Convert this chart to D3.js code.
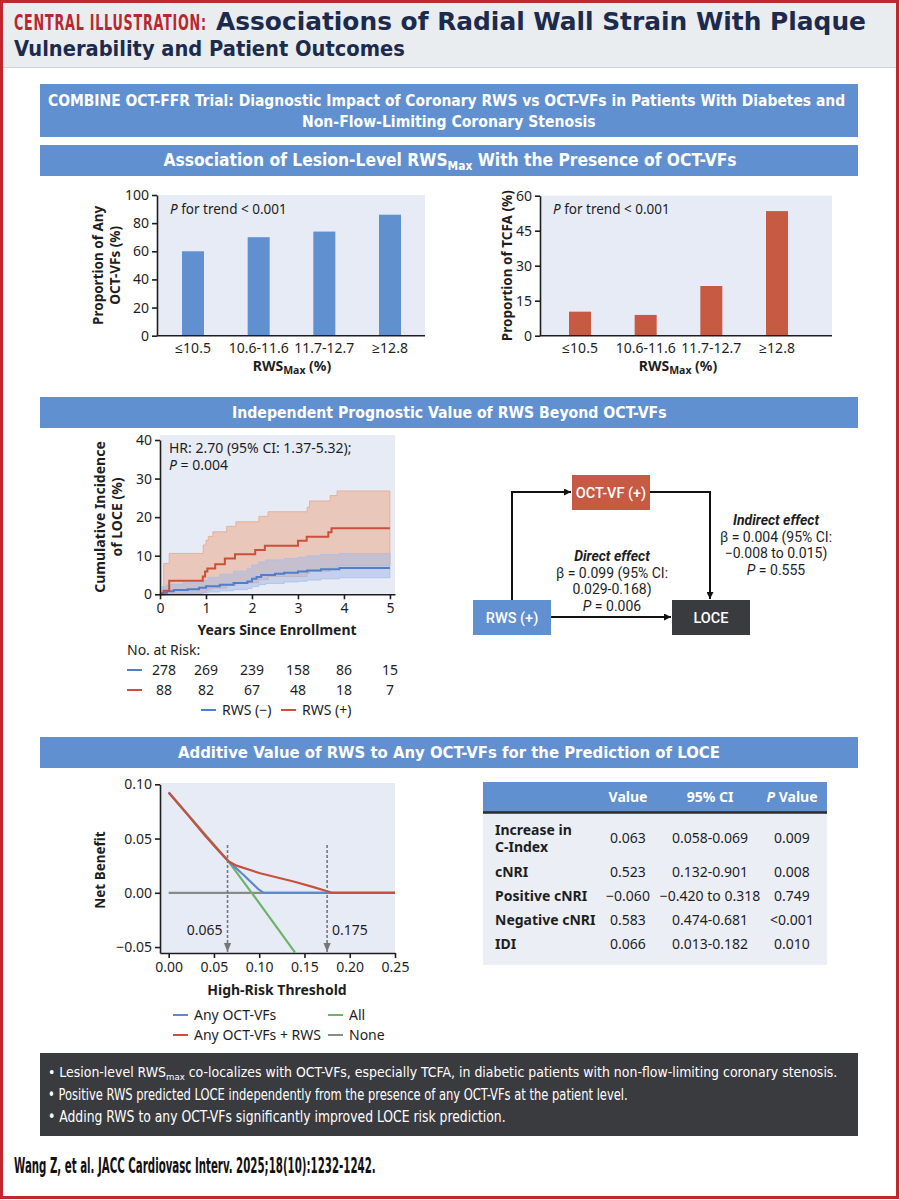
<!DOCTYPE html>
<html><head><meta charset="utf-8">
<script src="https://cdn.jsdelivr.net/npm/d3@7"></script>
<style>
html,body{margin:0;padding:0;background:#fff;}
svg{display:block;}
</style></head><body>
<svg id="chart" width="899" height="1200"></svg>
<script>
// ---------------- DATA ----------------
const barCategories = ["≤10.5", "10.6-11.6", "11.7-12.7", "≥12.8"];
const anyOctVfValues = [60, 70, 74, 86];
const tcfaValues = [10.3, 8.9, 21.3, 53.4];
const anyOctVfTicks = [0, 20, 40, 60, 80, 100];
const tcfaTicks = [0, 15, 30, 45, 60];

// Kaplan-Meier: [years, cumulative incidence %]
const kmRwsNegLine = [[0,0],[0.05,0.4],[0.15,0.8],[0.3,1.1],[0.6,1.3],[0.85,1.7],[1.0,2.1],[1.3,2.5],[1.6,2.9],[1.9,3.3],[2.0,4.0],[2.1,4.5],[2.2,5.0],[2.5,5.3],[2.7,5.6],[3.0,5.9],[3.2,6.2],[3.5,6.5],[3.9,6.8],[5,6.8]];
const kmRwsPosLine = [[0,0],[0.08,0.9],[0.2,3.5],[0.93,4.6],[0.98,5.9],[1.03,6.7],[1.2,7.8],[1.41,9.3],[1.63,10.4],[2.07,11.5],[2.28,12.6],[3.0,13.9],[3.19,14.9],[3.66,16.1],[3.73,17.1],[5,17.1]];
// [years, lower CI, upper CI]
const kmRwsNegBand = [[0,0,0.5],[0.05,0,2.0],[0.15,0,2.6],[0.5,0.2,3.0],[0.9,0.4,3.6],[1.05,0.6,4.4],[1.3,0.9,5.2],[1.6,1.2,6.0],[1.9,1.5,6.6],[2.0,2.0,7.6],[2.15,2.5,8.4],[2.3,2.8,8.9],[2.7,3.2,9.3],[3.0,3.4,9.6],[3.2,3.7,10.0],[3.5,4.0,10.3],[3.9,4.3,10.6],[5,4.3,10.6]];
const kmRwsPosBand = [[0,0,0],[0.08,0,8.0],[0.2,0,10.6],[0.94,0.5,12.8],[1.0,1.0,14.0],[1.05,1.3,15.0],[1.15,1.6,16.2],[1.45,2.3,17.6],[1.65,3.0,18.8],[2.15,3.8,20.2],[2.35,4.6,21.4],[3.2,5.4,22.6],[3.25,6.0,24.2],[3.7,6.8,25.6],[3.85,7.4,26.8],[5,7.4,26.8]];
const kmYTicks = [0, 10, 20, 30, 40];
const atRiskYears = [0, 1, 2, 3, 4, 5];
const atRiskRwsNeg = [278, 269, 239, 158, 86, 15];
const atRiskRwsPos = [88, 82, 67, 48, 18, 7];

// Decision curve: [threshold, net benefit]
const dcaAnyOctVf = [[0,0.0925],[0.02,0.073],[0.04,0.053],[0.055,0.039],[0.066,0.029],[0.0825,0.0166],[0.099,0.0034],[0.105,0],[0.25,0]];
const dcaAnyOctVfRws = [[0,0.0925],[0.02,0.073],[0.04,0.053],[0.055,0.039],[0.066,0.029],[0.075,0.025],[0.101,0.018],[0.13,0.012],[0.138,0.0104],[0.16,0.0052],[0.176,0.0012],[0.18,0],[0.25,0]];
const dcaAll = [[0,0.0925],[0.066,0.029],[0.0917,0],[0.1395,-0.055]];
const dcaNone = [[0,0],[0.25,0]];
const dcaXTicks = [0, 0.05, 0.10, 0.15, 0.20, 0.25];
const dcaYTicks = [-0.05, 0, 0.05, 0.10];
const dcaCutoffs = [0.065, 0.175];

// Table
const tableHeaders = ["Value", "95% CI", "P Value"];
const tableRowLabels = [["Increase in", "C-Index"], ["cNRI"], ["Positive cNRI"], ["Negative cNRI"], ["IDI"]];
const tableValue = ["0.063", "0.523", "−0.060", "0.583", "0.066"];
const tableCI = ["0.058-0.069", "0.132-0.901", "−0.420 to 0.318", "0.474-0.681", "0.013-0.182"];
const tableP = ["0.009", "0.008", "0.749", "<0.001", "0.010"];

// ---------------- STYLE ----------------
const BLUE = "#6190d1", RED = "#c65a43", GREEN = "#6db36a", GRAY = "#8a8a8a", DARK = "#3a3b3f";
const NAVY = "#1c2a4c", TRED = "#b8272e", BG = "#e7ebf6", INK = "#1e1e1e";
const COND = "'Liberation Sans Narrow','DejaVu Sans Condensed','Roboto Condensed',sans-serif";
const SANS = "'Noto Sans','Open Sans',sans-serif";
const DIAG = "Roboto,'Noto Sans',sans-serif";

const svg = d3.select("#chart");
const defs = svg.append("defs");
defs.append("marker").attr("id","arr").attr("viewBox","0 0 10 10").attr("refX",10).attr("refY",5)
  .attr("markerWidth",7).attr("markerHeight",7).attr("markerUnits","userSpaceOnUse").attr("orient","auto")
  .append("path").attr("d","M0,0L10,5L0,10Z").attr("fill","#111");
defs.append("marker").attr("id","arrg").attr("viewBox","0 0 10 10").attr("refX",10).attr("refY",5)
  .attr("markerWidth",9).attr("markerHeight",9).attr("markerUnits","userSpaceOnUse").attr("orient","auto")
  .append("path").attr("d","M0,1L10,5L0,9Z").attr("fill","#777");

function txt(g, x, y, s, o = {}) {
  const t = g.append("text").attr("x", x).attr("y", y).text(s)
    .attr("font-family", o.family || SANS).attr("font-size", o.size || 13.5)
    .attr("font-weight", o.weight || "normal").attr("fill", o.fill || INK)
    .attr("text-anchor", o.anchor || "start");
  if (o.style) t.attr("font-style", o.style);
  return t;
}
// fit a text to a target width.
// "shrink": reduce font-size if too wide, stretch glyphs if too narrow
// "size": only change font-size (texts with tspans)
// "scale": horizontally scale the glyphs with a transform (start-anchored texts)
function fit(t, target, mode = "shrink") {
  const w = t.node().getComputedTextLength();
  const scaleSize = k => {
    t.attr("font-size", +t.attr("font-size") * k);
    t.selectAll("tspan").each(function() {
      const fs = d3.select(this).attr("font-size");
      if (fs) d3.select(this).attr("font-size", +fs * k);
    });
  };
  if (mode === "size") { if (w > target) scaleSize(target / w); }
  else if (mode === "scale") {
    const x = +t.attr("x"), y = +t.attr("y");
    t.attr("x", 0).attr("y", 0).attr("transform", `translate(${x},${y}) scale(${target / w},1)`);
  }
  else if (w > target) scaleSize(target / w);
  else t.attr("textLength", target).attr("lengthAdjust", "spacingAndGlyphs");
  return t;
}

// ---------------- FRAME & TITLE ----------------
svg.append("rect").attr("x",3).attr("y",3).attr("width",893).attr("height",64).attr("fill","#e9edf0");
svg.append("line").attr("x1",3).attr("x2",896).attr("y1",67.5).attr("y2",67.5).attr("stroke","#cfd4d8");
svg.append("rect").attr("x",1.5).attr("y",1.5).attr("width",896).attr("height",1196).attr("fill","none").attr("stroke","#c0282e").attr("stroke-width",3);

fit(txt(svg, 14, 30, "CENTRAL ILLUSTRATION:", {family: COND, size: 22, weight: "bold", fill: TRED}).attr("letter-spacing", 1.2), 193, "scale");
fit(txt(svg, 216, 30, "Associations of Radial Wall Strain With Plaque", {family: COND, size: 25, weight: "bold", fill: NAVY}), 650);
fit(txt(svg, 14, 56, "Vulnerability and Patient Outcomes", {family: COND, size: 25, weight: "bold", fill: NAVY}), 391);

// Blue headers
function blueBox(y, h) { svg.append("rect").attr("x",40).attr("y",y).attr("width",818).attr("height",h).attr("fill",BLUE); }
blueBox(84, 53);
fit(txt(svg, 48, 106, "COMBINE OCT-FFR Trial: Diagnostic Impact of Coronary RWS vs OCT-VFs in Patients With Diabetes and", {family: COND, size: 17, weight: "bold", fill: "#fff"}), 798);
fit(txt(svg, 302, 127, "Non-Flow-Limiting Coronary Stenosis", {family: COND, size: 17, weight: "bold", fill: "#fff"}), 294);

blueBox(145, 31);
{
  const t = txt(svg, 450, 166, "Association of Lesion-Level RWS", {family: COND, size: 17.5, weight: "bold", fill: "#fff", anchor: "middle"});
  t.append("tspan").attr("font-size", 12).attr("dy", 4).text("Max");
  t.append("tspan").attr("dy", -4).text(" With the Presence of OCT-VFs");
  fit(t, 574, "size");
}
blueBox(397, 31);
fit(txt(svg, 232, 418, "Independent Prognostic Value of RWS Beyond OCT-VFs", {family: COND, size: 17.5, weight: "bold", fill: "#fff"}), 435);
blueBox(737, 31);
fit(txt(svg, 178, 758, "Additive Value of RWS to Any OCT-VFs for the Prediction of LOCE", {family: COND, size: 17.5, weight: "bold", fill: "#fff"}), 542);

// ---------------- BAR CHARTS ----------------
function styleAxis(ax) {
  ax.select(".domain").attr("stroke", INK).attr("stroke-width", 1.6);
  ax.selectAll(".tick line").attr("stroke", INK).attr("stroke-width", 1.6);
  ax.selectAll(".tick text").attr("font-family", SANS).attr("font-size", 14).attr("fill", INK);
}
function rwsLabel(g, x, y) {
  const t = txt(g, x, y, "RWS", {weight: "bold", anchor: "middle", size: 14});
  t.append("tspan").attr("font-size", 10.5).attr("dy", 3).text("Max");
  t.append("tspan").attr("dy", -3).text(" (%)");
}
function barChart(c) {
  const g = svg.append("g");
  g.append("rect").attr("x", c.x0).attr("y", c.yTop).attr("width", c.x1 - c.x0).attr("height", c.yBot - c.yTop).attr("fill", BG);
  const y = d3.scaleLinear().domain([0, c.max]).range([c.yBot, c.yTop]);
  const x = d3.scalePoint().domain(barCategories).range([c.c0, c.c1]);
  g.selectAll("rect.bar").data(c.values).join("rect").attr("class","bar")
    .attr("x", (d, i) => x(barCategories[i]) - 11).attr("width", 22)
    .attr("y", d => y(d)).attr("height", d => y(0) - y(d)).attr("fill", c.color);
  const ax = g.append("g").attr("transform", `translate(${c.x0},0)`)
    .call(d3.axisLeft(y).tickValues(c.ticks).tickSize(5).tickSizeOuter(0).tickPadding(3));
  styleAxis(ax);
  g.append("line").attr("x1", c.x0).attr("x2", c.x1).attr("y1", c.yBot).attr("y2", c.yBot).attr("stroke", INK).attr("stroke-width", 1.6);
  barCategories.forEach(k => txt(g, x(k), 353, k, {anchor: "middle", size: 14}));
  rwsLabel(g, c.xLabel, 371);
  const p = txt(g, c.x0 + 13, 214, "P", {style: "italic"});
  p.append("tspan").attr("font-style", "normal").text(" for trend < 0.001");
  c.ylab.forEach((s, i) => {
    txt(g, 0, 0, s, {weight: "bold", anchor: "middle", size: 13.5})
      .attr("transform", `translate(${c.ylabX[i]},${(c.yTop + c.yBot) / 2}) rotate(-90)`);
  });
}
barChart({x0: 157, x1: 425, yTop: 195, yBot: 335.7, c0: 193, c1: 390, max: 100, ticks: anyOctVfTicks, values: anyOctVfValues, color: BLUE, xLabel: 292, ylab: ["Proportion of Any", "OCT-VFs (%)"], ylabX: [103, 120]});
barChart({x0: 540, x1: 832, yTop: 195.7, yBot: 335.7, c0: 580, c1: 777, max: 60, ticks: tcfaTicks, values: tcfaValues, color: RED, xLabel: 678, ylab: ["Proportion of TCFA (%)"], ylabX: [512]});

// ---------------- KAPLAN-MEIER ----------------
{
  const g = svg.append("g");
  const x = d3.scaleLinear().domain([0, 5.11]).range([160, 395]);
  const y = d3.scaleLinear().domain([0, 40]).range([594.3, 440]);
  g.append("rect").attr("x", 160).attr("y", 435).attr("width", 235).attr("height", 159.3).attr("fill", BG);
  const area = d3.area().curve(d3.curveStepAfter).x(d => x(d[0])).y0(d => y(d[1])).y1(d => y(d[2]));
  g.append("path").datum(kmRwsPosBand).attr("d", area).attr("fill", "#eda47f").attr("fill-opacity", 0.5)
    .attr("stroke", "#e3a98e").attr("stroke-width", 0.8);
  g.append("path").datum(kmRwsNegBand).attr("d", area).attr("fill", "#9fb8e6").attr("fill-opacity", 0.5)
    .attr("stroke", "#a9bfe6").attr("stroke-width", 0.8);
  const line = d3.line().curve(d3.curveStepAfter).x(d => x(d[0])).y(d => y(d[1]));
  g.append("path").datum(kmRwsNegLine).attr("d", line).attr("fill", "none").attr("stroke", "#4f7fcc").attr("stroke-width", 2);
  g.append("path").datum(kmRwsPosLine).attr("d", line).attr("fill", "none").attr("stroke", "#c9503a").attr("stroke-width", 2);
  const ay = g.append("g").attr("transform", "translate(160,0)").call(d3.axisLeft(y).tickValues(kmYTicks).tickSize(5).tickSizeOuter(0).tickPadding(3));
  styleAxis(ay);
  const axx = g.append("g").attr("transform", "translate(0,594.3)").call(d3.axisBottom(x).tickValues(atRiskYears).tickFormat(d3.format("d")).tickSize(5).tickSizeOuter(0).tickPadding(4));
  styleAxis(axx);
  txt(g, 169, 453, "HR: 2.70 (95% CI: 1.37-5.32);", {size: 14});
  const p = txt(g, 169, 470, "P", {style: "italic", size: 14}); p.append("tspan").attr("font-style","normal").text(" = 0.004");
  txt(g, 277, 635, "Years Since Enrollment", {weight: "bold", anchor: "middle", size: 14});
  ["Cumulative Incidence", "of LOCE (%)"].forEach((s, i) => {
    txt(g, 0, 0, s, {weight: "bold", anchor: "middle", size: 14})
      .attr("transform", `translate(${[105, 122][i]},${517}) rotate(-90)`);
  });
  txt(g, 127, 655, "No. at Risk:", {size: 14});
  [[atRiskRwsNeg, "#4f7fcc", 675], [atRiskRwsPos, "#c9503a", 695]].forEach(([arr, col, yy]) => {
    g.append("line").attr("x1", 127).attr("x2", 142).attr("y1", yy - 5).attr("y2", yy - 5).attr("stroke", col).attr("stroke-width", 2);
    arr.forEach((v, i) => txt(g, x(atRiskYears[i]) + (i === 0 ? 4 : 0), yy, String(v), {anchor: "middle", size: 14}));
  });
  g.append("line").attr("x1", 201).attr("x2", 216).attr("y1", 710).attr("y2", 710).attr("stroke", "#4f7fcc").attr("stroke-width", 2);
  txt(g, 222, 715, "RWS (−)", {size: 14});
  g.append("line").attr("x1", 281).attr("x2", 296).attr("y1", 710).attr("y2", 710).attr("stroke", "#c9503a").attr("stroke-width", 2);
  txt(g, 302, 715, "RWS (+)", {size: 14});
}

// ---------------- MEDIATION DIAGRAM ----------------
{
  const g = svg.append("g");
  const boxes = [["OCT-VF (+)", 572, 475, RED], ["RWS (+)", 473, 600, BLUE], ["LOCE", 672, 600, DARK]];
  g.append("path").attr("d", "M512,600V492H571").attr("fill", "none").attr("stroke", "#111").attr("stroke-width", 2).attr("marker-end", "url(#arr)");
  g.append("path").attr("d", "M650,492H710V599").attr("fill", "none").attr("stroke", "#111").attr("stroke-width", 2).attr("marker-end", "url(#arr)");
  g.append("path").attr("d", "M551,617H671").attr("fill", "none").attr("stroke", "#111").attr("stroke-width", 2).attr("marker-end", "url(#arr)");
  boxes.forEach(([s, bx, by, col]) => {
    g.append("rect").attr("x", bx).attr("y", by).attr("width", 78).attr("height", 35).attr("fill", col);
    txt(g, bx + 39, by + 22.5, s, {anchor: "middle", fill: "#fff", weight: 500, size: 14.5, family: DIAG});
  });
  const o = {anchor: "middle", size: 14, family: DIAG};
  txt(g, 612, 561, "Direct effect", {...o, weight: "bold", style: "italic"});
  txt(g, 612, 577.5, "β = 0.099 (95% CI:", o);
  txt(g, 612, 594, "0.029-0.168)", o);
  let p = txt(g, 612, 610.5, "P", {...o, style: "italic"}); p.append("tspan").attr("font-style","normal").text(" = 0.006");
  txt(g, 776, 525, "Indirect effect", {...o, weight: "bold", style: "italic"});
  txt(g, 776, 541.5, "β = 0.004 (95% CI:", o);
  txt(g, 776, 558, "−0.008 to 0.015)", o);
  p = txt(g, 776, 574.5, "P", {...o, style: "italic"}); p.append("tspan").attr("font-style","normal").text(" = 0.555");
}

// ---------------- DECISION CURVE ----------------
{
  const g = svg.append("g");
  const x = d3.scaleLinear().domain([-0.0096, 0.25]).range([160, 395]);
  const y = d3.scaleLinear().domain([-0.0555, 0.10]).range([953, 784.3]);
  g.append("rect").attr("x", 160).attr("y", 783).attr("width", 235).attr("height", 170).attr("fill", BG);
  const line = d3.line().x(d => x(d[0])).y(d => y(d[1]));
  [[dcaNone, GRAY], [dcaAll, GREEN], [dcaAnyOctVf, "#5b8ad0"], [dcaAnyOctVfRws, "#c9503a"]].forEach(([arr, col]) => {
    g.append("path").datum(arr).attr("d", line).attr("fill", "none").attr("stroke", col).attr("stroke-width", 2.2).attr("stroke-linejoin", "round");
  });
  dcaCutoffs.forEach((c, i) => {
    g.append("line").attr("x1", x(c)).attr("x2", x(c)).attr("y1", y(0.044)).attr("y2", 952)
      .attr("stroke", "#777").attr("stroke-width", 1.6).attr("stroke-dasharray", "3,2").attr("marker-end", "url(#arrg)");
    txt(g, x(c) + (i === 0 ? -5 : 5), 935, d3.format(".3f")(c), {anchor: i === 0 ? "end" : "start", size: 14});
  });
  const ay = g.append("g").attr("transform", "translate(160,0)").call(d3.axisLeft(y).tickValues(dcaYTicks).tickFormat(d3.format(".2f")).tickSize(5).tickSizeOuter(0).tickPadding(3));
  styleAxis(ay);
  const axx = g.append("g").attr("transform", "translate(0,953)").call(d3.axisBottom(x).tickValues(dcaXTicks).tickFormat(d3.format(".2f")).tickSize(5).tickSizeOuter(0).tickPadding(4));
  styleAxis(axx);
  txt(g, 277, 995, "High-Risk Threshold", {weight: "bold", anchor: "middle", size: 14});
  txt(g, 0, 0, "Net Benefit", {weight: "bold", anchor: "middle", size: 13.5}).attr("transform", "translate(105,870) rotate(-90)");
  const leg = [["Any OCT-VFs", "#5b8ad0", 173, 1020], ["All", GREEN, 328, 1020], ["Any OCT-VFs + RWS", "#c9503a", 173, 1040], ["None", GRAY, 328, 1040]];
  leg.forEach(([s, col, lx, ly]) => {
    g.append("line").attr("x1", lx).attr("x2", lx + 15).attr("y1", ly - 5).attr("y2", ly - 5).attr("stroke", col).attr("stroke-width", 2);
    txt(g, lx + 21, ly, s, {size: 14});
  });
}

// ---------------- TABLE ----------------
{
  const g = svg.append("g");
  const colX = d3.scalePoint().domain(tableHeaders).range([628, 792]);
  g.append("rect").attr("x", 483).attr("y", 782).attr("width", 344).attr("height", 30).attr("fill", BLUE);
  g.append("rect").attr("x", 483).attr("y", 812).attr("width", 344).attr("height", 153).attr("fill", "#eceef6");
  g.append("line").attr("x1", 483).attr("x2", 827).attr("y1", 812.5).attr("y2", 812.5).attr("stroke", "#2b2b2e").attr("stroke-width", 2.5);
  tableHeaders.forEach(h => {
    if (h === "P Value") {
      const t = txt(g, colX(h), 802, "P", {anchor: "middle", weight: "bold", fill: "#fff", style: "italic", size: 14});
      t.append("tspan").attr("font-style", "normal").text(" Value");
    } else txt(g, colX(h), 802, h, {anchor: "middle", weight: "bold", fill: "#fff", size: 14});
  });
  tableRowLabels.forEach((lab, i) => {
    const cy = i === 0 ? 838 : 872 + (i - 1) * 24;
    if (lab.length === 2) { txt(g, 495, cy - 3, lab[0], {weight: "bold", size: 14}); txt(g, 495, cy + 14, lab[1], {weight: "bold", size: 14}); }
    else txt(g, 495, cy + 5, lab[0], {weight: "bold", size: 14});
    txt(g, colX("Value"), cy + 5, tableValue[i], {anchor: "middle", size: 14});
    txt(g, colX("95% CI"), cy + 5, tableCI[i], {anchor: "middle", size: 14});
    txt(g, colX("P Value"), cy + 5, tableP[i], {anchor: "middle", size: 14});
  });
}

// ---------------- FOOTER ----------------
svg.append("rect").attr("x", 40).attr("y", 1053).attr("width", 818).attr("height", 83).attr("fill", DARK);
{
  const t = txt(svg, 48, 1077, "• Lesion-level RWS", {family: COND, size: 16, fill: "#fff"});
  t.append("tspan").attr("font-size", 11).attr("dy", 3).text("max");
  t.append("tspan").attr("dy", -3).text(" co-localizes with OCT-VFs, especially TCFA, in diabetic patients with non-flow-limiting coronary stenosis.");
  fit(t, 790, "size");
}
fit(txt(svg, 48, 1100, "• Positive RWS predicted LOCE independently from the presence of any OCT-VFs at the patient level.", {family: COND, size: 15, fill: "#fff"}), 580, "scale");
fit(txt(svg, 48, 1122, "• Adding RWS to any OCT-VFs significantly improved LOCE risk prediction.", {family: COND, size: 15, fill: "#fff"}), 458, "scale");
fit(txt(svg, 14, 1173, "Wang Z, et al. JACC Cardiovasc Interv. 2025;18(10):1232-1242.", {family: COND, size: 21, weight: "bold", fill: "#111"}), 362, "scale");
</script>
</body></html>
